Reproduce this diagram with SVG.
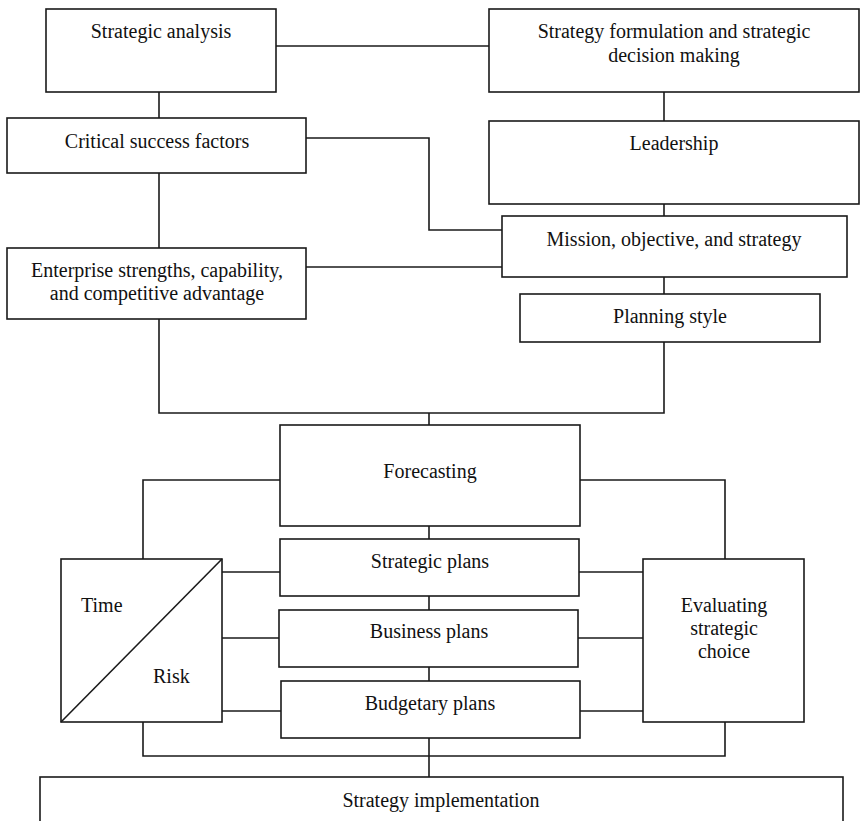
<svg xmlns="http://www.w3.org/2000/svg" width="860" height="821" viewBox="0 0 860 821">
  <style>
    .box { fill: #ffffff; stroke: #1a1a1a; stroke-width: 1.6; }
    .wire { fill: none; stroke: #1a1a1a; stroke-width: 1.6; }
    text { font-family: 'Liberation Serif', 'DejaVu Serif', serif; font-size: 20px; fill: #111111; }
    .lbl { text-anchor: middle; }
    .lbl-start { text-anchor: start; }
  </style>
  <rect width="860" height="821" fill="#ffffff"/>

  <!-- connectors -->
  <g id="connectors" class="wire">
    <path d="M276,46 H489"/>
    <path d="M159,92 V118"/>
    <path d="M159,173 V248"/>
    <path d="M306,138 H429 V230 H502"/>
    <path d="M306,267 H502"/>
    <path d="M664,92 V121"/>
    <path d="M664,204 V216"/>
    <path d="M664,277 V294"/>
    <path d="M159,319 V413 H664 V342"/>
    <path d="M429,413 V425"/>
    <path d="M280,480 H143 V559"/>
    <path d="M580,480 H725 V559"/>
    <path d="M429,526 V539"/>
    <path d="M429,596 V610"/>
    <path d="M429,667 V681"/>
    <path d="M429,738 V777"/>
    <path d="M222,572 H280"/>
    <path d="M222,638 H279"/>
    <path d="M222,711 H281"/>
    <path d="M579,572 H643"/>
    <path d="M578,638 H643"/>
    <path d="M580,711 H643"/>
    <path d="M143,722 V756 H725 V722"/>
  </g>

  <g id="strategic-analysis">
    <rect class="box" x="46" y="9" width="230" height="83"/>
    <text class="lbl" x="161" y="38">Strategic analysis</text>
  </g>

  <g id="strategy-formulation">
    <rect class="box" x="489" y="9" width="370" height="83"/>
    <text class="lbl" x="674" y="38">Strategy formulation and strategic</text>
    <text class="lbl" x="674" y="62">decision making</text>
  </g>

  <g id="critical-success-factors">
    <rect class="box" x="7" y="118" width="299" height="55"/>
    <text class="lbl" x="157" y="148">Critical success factors</text>
  </g>

  <g id="leadership">
    <rect class="box" x="489" y="121" width="370" height="83"/>
    <text class="lbl" x="674" y="150">Leadership</text>
  </g>

  <g id="mission">
    <rect class="box" x="502" y="216" width="345" height="61"/>
    <text class="lbl" x="674" y="246">Mission, objective, and strategy</text>
  </g>

  <g id="enterprise-strengths">
    <rect class="box" x="7" y="248" width="299" height="71"/>
    <text class="lbl" x="157" y="277">Enterprise strengths, capability,</text>
    <text class="lbl" x="157" y="300">and competitive advantage</text>
  </g>

  <g id="planning-style">
    <rect class="box" x="520" y="294" width="300" height="48"/>
    <text class="lbl" x="670" y="323">Planning style</text>
  </g>

  <g id="forecasting">
    <rect class="box" x="280" y="425" width="300" height="101"/>
    <text class="lbl" x="430" y="478">Forecasting</text>
  </g>

  <g id="strategic-plans">
    <rect class="box" x="280" y="539" width="299" height="57"/>
    <text class="lbl" x="430" y="568">Strategic plans</text>
  </g>

  <g id="business-plans">
    <rect class="box" x="279" y="610" width="299" height="57"/>
    <text class="lbl" x="429" y="638">Business plans</text>
  </g>

  <g id="budgetary-plans">
    <rect class="box" x="281" y="681" width="299" height="57"/>
    <text class="lbl" x="430" y="710">Budgetary plans</text>
  </g>

  <g id="time-risk">
    <rect class="box" x="61" y="559" width="161" height="163"/>
    <path class="wire" d="M61,722 L222,559"/>
    <text class="lbl-start" x="81" y="612">Time</text>
    <text class="lbl-start" x="153" y="683">Risk</text>
  </g>

  <g id="evaluating-choice">
    <rect class="box" x="643" y="559" width="161" height="163"/>
    <text class="lbl" x="724" y="612">Evaluating</text>
    <text class="lbl" x="724" y="635">strategic</text>
    <text class="lbl" x="724" y="658">choice</text>
  </g>

  <g id="strategy-implementation">
    <rect class="box" x="40" y="777" width="803" height="60"/>
    <text class="lbl" x="441" y="807">Strategy implementation</text>
  </g>
</svg>
